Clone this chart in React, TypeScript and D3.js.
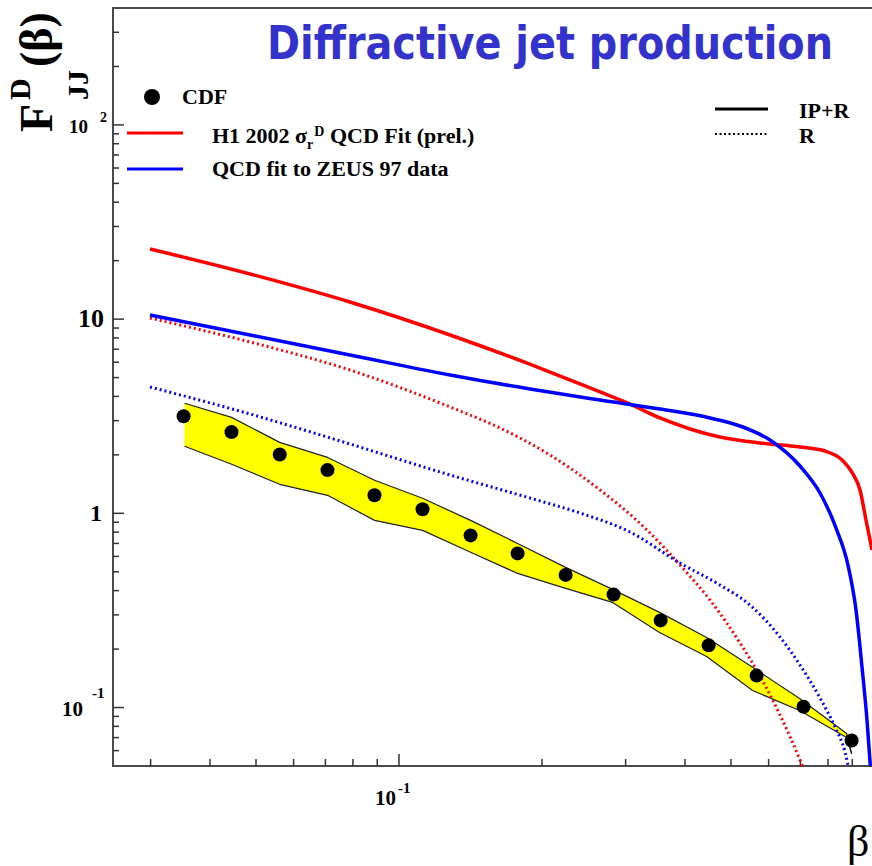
import React from 'react';
import * as d3 from 'd3';

const W = 872;
const H = 866;

// CDF data points
const cdfBeta = [0.0352, 0.0444, 0.0561, 0.0707, 0.0888, 0.1121, 0.1415, 0.1777, 0.2243, 0.283, 0.3555, 0.4486, 0.566, 0.7108, 0.8971];
const cdfF = [3.16, 2.62, 2.01, 1.67, 1.24, 1.05, 0.77, 0.622, 0.482, 0.382, 0.281, 0.209, 0.146, 0.101, 0.0676];

// CDF uncertainty band
const bandBeta = [0.03537, 0.04443, 0.05607, 0.07074, 0.08884, 0.1121, 0.1415, 0.1777, 0.2243, 0.2816, 0.3536, 0.4443, 0.5551, 0.6973, 0.8756, 0.8971];
const bandUpper = [3.69, 3.12, 2.32, 1.94, 1.48, 1.195, 0.92, 0.7, 0.527, 0.406, 0.309, 0.2296, 0.161, 0.1113, 0.0735, 0.0579];
const bandLower = [2.215, 1.789, 1.411, 1.238, 0.92, 0.817, 0.63, 0.4906, 0.4108, 0.3477, 0.2435, 0.1832, 0.1224, 0.0965, 0.0701, 0.0579];

// H1 2002 QCD fit, IP+R
const h1Beta = [0.02991, 0.04857, 0.07882, 0.1281, 0.2079, 0.265, 0.3064, 0.3543, 0.41, 0.4738, 0.5754, 0.6985, 0.7886, 0.8564, 0.9033, 0.9344, 0.962, 0.9903];
const h1F = [22.97, 17.08, 12.25, 8.285, 5.342, 4.215, 3.656, 3.097, 2.718, 2.472, 2.302, 2.196, 2.094, 1.883, 1.594, 1.319, 0.924, 0.6475];

// H1 2002 QCD fit, R
const h1RBeta = [0.02991, 0.04857, 0.07882, 0.1281, 0.1632, 0.2079, 0.265, 0.3294, 0.3905, 0.4515, 0.5223, 0.5754, 0.634, 0.6985, 0.7191];
const h1RF = [10.13, 7.625, 5.47, 3.528, 2.75, 1.997, 1.319, 0.8403, 0.5418, 0.3578, 0.215, 0.1453, 0.0916, 0.0537, 0.0449];

// ZEUS 97 QCD fit, IP+R
const zBeta = [0.02991, 0.04857, 0.07882, 0.1281, 0.1887, 0.265, 0.3543, 0.4515, 0.5223, 0.604, 0.6985, 0.7697, 0.8318, 0.8815, 0.9165, 0.9435, 0.9666, 0.9856];
const zF = [10.5, 8.285, 6.537, 5.157, 4.368, 3.834, 3.445, 3.097, 2.817, 2.386, 1.753, 1.273, 0.8403, 0.5418, 0.3179, 0.1617, 0.0862, 0.0449];

// ZEUS 97 QCD fit, R
const zRBeta = [0.02991, 0.04857, 0.07882, 0.1281, 0.1887, 0.2404, 0.3064, 0.3905, 0.4738, 0.5481, 0.634, 0.6985, 0.7697, 0.8277, 0.8688, 0.8902];
const zRF = [4.473, 3.247, 2.276, 1.575, 1.199, 1.004, 0.8014, 0.5548, 0.4276, 0.3372, 0.2308, 0.1656, 0.112, 0.0794, 0.059, 0.0449];

const yLabelValues = [100, 10, 1, 0.1];
const xLabelValues = [0.1];

const title = 'Diffractive jet production';
const legendCDF = 'CDF';
const legendZEUS = 'QCD fit to ZEUS 97 data';
const legendIPR = 'IP+R';
const legendR = 'R';

const serif = "'Liberation Serif', 'Times New Roman', serif";

export default function App() {
  const x = d3.scaleLog().domain([0.025, 1]).range([113, 874]);
  const y = d3.scaleLog().domain([0.05, 400]).range([766, 8]);

  const mkLine = (bs: number[], fs: number[], curve: any) =>
    d3
      .line<number>()
      .x((i) => x(bs[i]))
      .y((i) => y(fs[i]))
      .curve(curve)(bs.map((_, i) => i)) as string;

  const bandArea = d3
    .area<number>()
    .x((i) => x(bandBeta[i]))
    .y0((i) => y(bandLower[i]))
    .y1((i) => y(bandUpper[i]))
    .curve(d3.curveLinear)(bandBeta.map((_, i) => i)) as string;

  const isMajor = (v: number) => Math.abs(Math.log10(v) - Math.round(Math.log10(v))) < 1e-6;
  const yTicks = y.ticks().filter((v) => v > 0.0501 && v < 399);
  const xTicks = x.ticks().filter((v) => v > 0.0251 && v < 0.999);

  const yLab = (v: number) => y(v);

  return (
    <svg
      width={W}
      height={H}
      style={{ position: 'absolute', left: 0, top: 0, background: '#fff' }}
      xmlns="http://www.w3.org/2000/svg"
    >
      <defs>
        <clipPath id="plotClip">
          <rect x={113} y={8} width={761} height={758} />
        </clipPath>
      </defs>
      <rect x={0} y={0} width={W} height={H} fill="#fff" />

      {/* frame */}
      <rect x={113} y={8} width={761} height={758} fill="none" stroke="#4a4a4a" strokeWidth={2} />

      {/* y ticks */}
      {yTicks.map((v) => (
        <line key={'yt' + v} x1={113} x2={113 + (isMajor(v) ? 11 : 6)} y1={y(v)} y2={y(v)} stroke="#333" strokeWidth={1.5} />
      ))}
      {/* x ticks */}
      {xTicks.map((v) => (
        <line key={'xt' + v} x1={x(v)} x2={x(v)} y1={766} y2={766 - (isMajor(v) ? 12 : 7)} stroke="#333" strokeWidth={1.5} />
      ))}

      {/* y tick labels */}
      <g fontFamily={serif} fontWeight="bold" fill="#000">
        <text x={88} y={yLab(yLabelValues[0]) + 8} fontSize={19} textAnchor="end">10</text>
        <text x={100} y={yLab(yLabelValues[0]) - 3} fontSize={14}>2</text>
        <text x={104} y={yLab(yLabelValues[1]) + 8} fontSize={26} textAnchor="end">10</text>
        <text x={102} y={yLab(yLabelValues[2]) + 8} fontSize={24} textAnchor="end">1</text>
        <text x={83} y={yLab(yLabelValues[3]) + 8} fontSize={21} textAnchor="end">10</text>
        <text x={92} y={yLab(yLabelValues[3]) - 10} fontSize={15}>-1</text>
        {/* x tick label */}
        <text x={x(xLabelValues[0]) - 3} y={805} fontSize={21} textAnchor="end">10</text>
        <text x={x(xLabelValues[0]) - 1} y={793} fontSize={15}>-1</text>
      </g>

      {/* data */}
      <g clipPath="url(#plotClip)">
        <path d={bandArea} fill="#ffff00" stroke="none" />
        <path d={mkLine(bandBeta, bandUpper, d3.curveLinear)} fill="none" stroke="#222" strokeWidth={1.2} strokeLinejoin="round" />
        <path d={mkLine(bandBeta, bandLower, d3.curveLinear)} fill="none" stroke="#222" strokeWidth={1.2} strokeLinejoin="round" />

        <path d={mkLine(h1RBeta, h1RF, d3.curveMonotoneX)} fill="none" stroke="#ff0000" strokeWidth={3} strokeDasharray="2 3" />
        <path d={mkLine(zRBeta, zRF, d3.curveMonotoneX)} fill="none" stroke="#0000ff" strokeWidth={3} strokeDasharray="2 3" />
        <path d={mkLine(h1Beta, h1F, d3.curveMonotoneX)} fill="none" stroke="#ff0000" strokeWidth={3.5} />
        <path d={mkLine(zBeta, zF, d3.curveMonotoneX)} fill="none" stroke="#0000ff" strokeWidth={3.5} />

        {cdfBeta.map((b, i) => (
          <circle key={'p' + i} cx={x(b)} cy={y(cdfF[i])} r={7} fill="#000" />
        ))}
      </g>

      {/* title */}
      <g transform="translate(267,59) scale(1,1.15)">
        <text
          x={0}
          y={0}
          fontFamily="'DejaVu Sans', sans-serif"
          fontWeight="bold"
          fontSize={40}
          fill="#3333cc"
          textLength={566}
          lengthAdjust="spacingAndGlyphs"
        >
          {title}
        </text>
      </g>

      {/* legend left */}
      <g fontFamily={serif} fontWeight="bold" fontSize={22} fill="#000">
        <circle cx={152} cy={97} r={8} fill="#000" />
        <text x={182} y={104}>{legendCDF}</text>
        <line x1={127} x2={183} y1={133} y2={133} stroke="#ff0000" strokeWidth={3} />
        <text x={212} y={143}>
          H1 2002 σ
          <tspan fontSize={14} dy={6}>r</tspan>
          <tspan fontSize={14} dy={-13} dx={1}>D</tspan>
          <tspan dy={7}> QCD Fit (prel.)</tspan>
        </text>
        <line x1={127} x2={183} y1={169} y2={169} stroke="#0000ff" strokeWidth={3} />
        <text x={212} y={176}>{legendZEUS}</text>
      </g>

      {/* legend right */}
      <g fontFamily={serif} fontWeight="bold" fontSize={22} fill="#000">
        <line x1={715} x2={768} y1={109} y2={109} stroke="#000" strokeWidth={3} />
        <text x={799} y={118}>{legendIPR}</text>
        <line x1={715} x2={768} y1={134} y2={134} stroke="#000" strokeWidth={2} strokeDasharray="2 2.5" />
        <text x={799} y={143}>{legendR}</text>
      </g>

      {/* y axis title */}
      <g transform="translate(52,132) rotate(-90)" fontFamily={serif} fontWeight="bold" fill="#000">
        <text x={0} y={0} fontSize={46}>F</text>
        <text x={32} y={-22} fontSize={30}>D</text>
        <text x={32} y={36} fontSize={30}>JJ</text>
        <text x={65} y={0} fontSize={46}>(β)</text>
      </g>

      {/* x axis title */}
      <text x={847} y={856} fontFamily={serif} fontSize={44} fill="#000">β</text>
    </svg>
  );
}
